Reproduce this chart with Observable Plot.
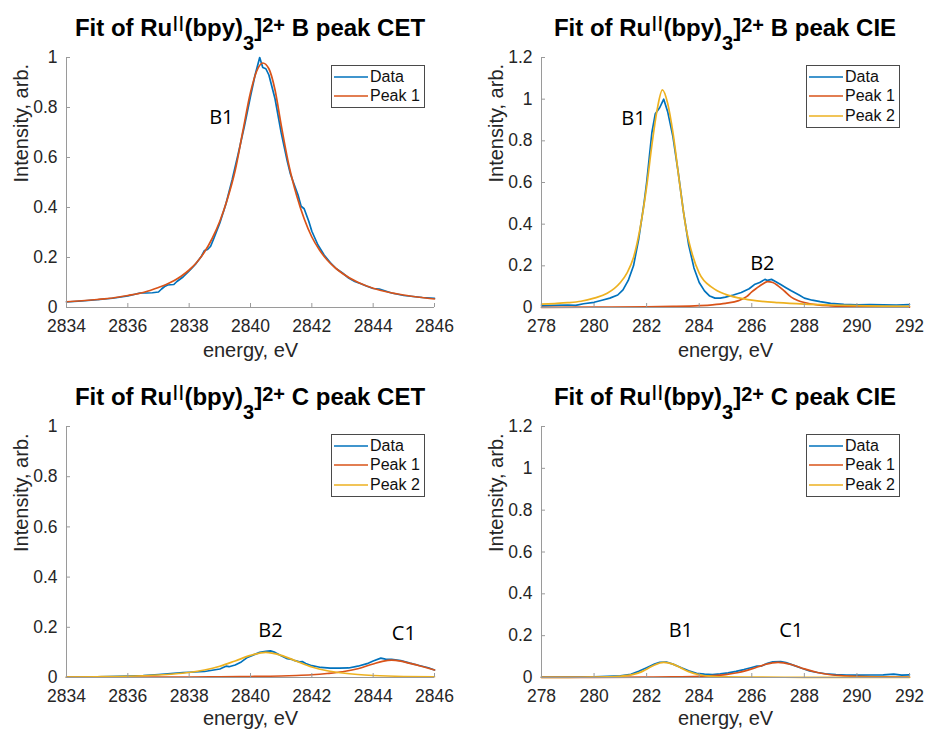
<!DOCTYPE html>
<html>
<head>
<meta charset="utf-8">
<script src="https://cdn.jsdelivr.net/npm/d3@7"></script>
<script src="https://cdn.jsdelivr.net/npm/@observablehq/plot@0.6"></script>
<style>
  body { margin: 0; background: #fff; }
  #fig { position: relative; width: 926px; height: 729px; overflow: hidden;
         font-family: "Liberation Sans", Arial, Helvetica, sans-serif; }
  .panel { position: absolute; }
  .panel svg { display: block; }
  .title { position: absolute; transform: translateX(-50%); white-space: nowrap;
           font-weight: bold; font-size: 24px; line-height: 24px; color: #000; }
  .title sup, .title sub { font-size: 20px; line-height: 0; }
  .title sup.ox { vertical-align: 5px; font-weight: normal; font-size: 22px; }
  .title sup.ch { vertical-align: 4px; }
  .title sub { vertical-align: -14px; }
  .legend { position: absolute; background: #fff; border: 1px solid #4a4a4a;
            font-size: 16px; color: #111; padding: 1px 4px 1px 2px; box-sizing: border-box; }
  .legend .row { display: flex; align-items: center; height: 19.5px; }
  .legend svg { margin-right: 2px; }
</style>
</head>
<body>
<div id="fig"></div>
<script>
// ---- axis ticks ----
const cetTicks = [2834, 2836, 2838, 2840, 2842, 2844, 2846];
const cieTicks = [278, 280, 282, 284, 286, 288, 290, 292];
const yTicksCet = [0, 0.2, 0.4, 0.6, 0.8, 1];
const yTicksCie = [0, 0.2, 0.4, 0.6, 0.8, 1, 1.2];

// ---- B peak, CET ----
const bCetDataE = [2834, 2834.5, 2835, 2835.5, 2836, 2836.2, 2836.4, 2836.6, 2836.8, 2837, 2837.1, 2837.2, 2837.3, 2837.5, 2837.6, 2837.8, 2838, 2838.2, 2838.4, 2838.5, 2838.6, 2838.7, 2838.8, 2839, 2839.2, 2839.4, 2839.6, 2839.8, 2840, 2840.15, 2840.3, 2840.4, 2840.5, 2840.6, 2840.8, 2841, 2841.2, 2841.3, 2841.4, 2841.55, 2841.65, 2841.75, 2841.9, 2842, 2842.2, 2842.4, 2842.6, 2842.8, 2843, 2843.2, 2843.4, 2843.6, 2843.8, 2844, 2844.2, 2844.4, 2844.6, 2844.8, 2845, 2845.3, 2845.6, 2846];
const bCetData = [0.022, 0.026, 0.031, 0.037, 0.046, 0.052, 0.058, 0.058, 0.059, 0.062, 0.074, 0.084, 0.090, 0.092, 0.104, 0.122, 0.146, 0.172, 0.205, 0.228, 0.232, 0.245, 0.275, 0.338, 0.415, 0.51, 0.615, 0.725, 0.845, 0.93, 1.0, 0.96, 0.955, 0.93, 0.835, 0.70, 0.585, 0.535, 0.50, 0.45, 0.405, 0.395, 0.345, 0.305, 0.25, 0.21, 0.18, 0.155, 0.138, 0.118, 0.104, 0.095, 0.085, 0.076, 0.074, 0.066, 0.058, 0.053, 0.048, 0.044, 0.040, 0.037];
const bCetPeak1E = [2834, 2834.5, 2835, 2835.5, 2836, 2836.5, 2837, 2837.25, 2837.5, 2837.75, 2838, 2838.25, 2838.5, 2838.75, 2839, 2839.25, 2839.5, 2839.75, 2840, 2840.2, 2840.4, 2840.6, 2840.8, 2841, 2841.25, 2841.5, 2841.75, 2842, 2842.25, 2842.5, 2842.75, 2843, 2843.5, 2844, 2844.5, 2845, 2845.5, 2846];
const bCetPeak1 = [0.023, 0.027, 0.032, 0.038, 0.048, 0.060, 0.080, 0.092, 0.107, 0.126, 0.150, 0.181, 0.222, 0.276, 0.345, 0.435, 0.548, 0.705, 0.86, 0.945, 0.978, 0.955, 0.87, 0.73, 0.57, 0.45, 0.355, 0.282, 0.230, 0.190, 0.160, 0.136, 0.101, 0.077, 0.061, 0.050, 0.041, 0.034];

// ---- B peak, CIE ----
const bCieDataE = [278, 278.5, 279, 279.3, 279.6, 280, 280.3, 280.6, 280.9, 281.1, 281.3, 281.5, 281.7, 281.9, 282, 282.1, 282.2, 282.33, 282.5, 282.65, 282.8, 283, 283.2, 283.4, 283.6, 283.8, 284, 284.2, 284.4, 284.6, 284.8, 285, 285.3, 285.6, 285.9, 286.1, 286.3, 286.5, 286.6, 286.75, 286.9, 287.1, 287.3, 287.5, 287.8, 288, 288.3, 288.6, 289, 289.5, 290, 290.5, 291, 291.5, 292];
const bCieData = [0.008, 0.010, 0.012, 0.010, 0.018, 0.025, 0.035, 0.045, 0.060, 0.085, 0.13, 0.20, 0.33, 0.50, 0.60, 0.72, 0.84, 0.93, 0.96, 1.0, 0.94, 0.82, 0.65, 0.46, 0.30, 0.19, 0.12, 0.08, 0.055, 0.045, 0.045, 0.05, 0.06, 0.072, 0.09, 0.11, 0.12, 0.135, 0.13, 0.135, 0.125, 0.11, 0.095, 0.08, 0.06, 0.045, 0.035, 0.028, 0.02, 0.015, 0.013, 0.014, 0.013, 0.012, 0.014];
const bCiePeak1E = [278, 280, 282, 283, 284, 284.5, 285, 285.5, 285.8, 286, 286.2, 286.4, 286.6, 286.8, 287, 287.25, 287.5, 287.75, 288, 288.5, 289, 290, 291, 292];
const bCiePeak1 = [0.001, 0.002, 0.003, 0.005, 0.009, 0.013, 0.02, 0.033, 0.052, 0.075, 0.094, 0.112, 0.124, 0.12, 0.104, 0.078, 0.05, 0.034, 0.024, 0.013, 0.008, 0.004, 0.003, 0.002];
const bCiePeak2E = [278, 278.5, 279, 279.5, 280, 280.5, 281, 281.25, 281.5, 281.75, 282, 282.2, 282.4, 282.6, 282.8, 283, 283.25, 283.5, 283.75, 284, 284.5, 285, 285.5, 286, 287, 288, 289, 290, 291, 292];
const bCiePeak2 = [0.016, 0.019, 0.023, 0.03, 0.045, 0.068, 0.12, 0.165, 0.24, 0.38, 0.58, 0.78, 0.95, 1.045, 0.98, 0.84, 0.6, 0.38, 0.25, 0.165, 0.095, 0.063, 0.046, 0.035, 0.023, 0.016, 0.012, 0.009, 0.007, 0.006];

// ---- C peak, CET ----
const cCetDataE = [2834, 2835, 2836, 2836.5, 2837, 2837.5, 2837.8, 2838, 2838.5, 2838.8, 2839, 2839.2, 2839.3, 2839.5, 2839.7, 2839.9, 2840.1, 2840.3, 2840.5, 2840.65, 2840.8, 2841, 2841.2, 2841.35, 2841.45, 2841.6, 2841.7, 2841.8, 2842, 2842.3, 2842.6, 2842.9, 2843.2, 2843.5, 2843.8, 2844, 2844.25, 2844.4, 2844.6, 2844.9, 2845.2, 2845.5, 2845.8, 2846];
const cCetData = [0.002, 0.003, 0.006, 0.008, 0.012, 0.017, 0.02, 0.021, 0.024, 0.03, 0.034, 0.045, 0.043, 0.05, 0.062, 0.08, 0.09, 0.1, 0.104, 0.106, 0.1, 0.087, 0.075, 0.072, 0.067, 0.062, 0.063, 0.056, 0.047, 0.04, 0.037, 0.037, 0.038, 0.045, 0.055, 0.066, 0.077, 0.073, 0.072, 0.067, 0.057, 0.048, 0.039, 0.03];
const cCetPeak1E = [2834, 2836, 2838, 2839, 2840, 2841, 2841.5, 2842, 2842.5, 2843, 2843.5, 2844, 2844.3, 2844.6, 2844.9, 2845.2, 2845.5, 2845.8, 2846];
const cCetPeak1 = [0.001, 0.001, 0.002, 0.003, 0.004, 0.006, 0.008, 0.011, 0.016, 0.023, 0.035, 0.054, 0.064, 0.069, 0.065, 0.056, 0.047, 0.037, 0.03];
const cCetPeak2E = [2834, 2835, 2836, 2836.5, 2837, 2837.5, 2838, 2838.5, 2839, 2839.5, 2840, 2840.5, 2841, 2841.5, 2842, 2842.5, 2843, 2843.5, 2844, 2845, 2846];
const cCetPeak2 = [0.002, 0.003, 0.005, 0.007, 0.01, 0.014, 0.02, 0.03, 0.045, 0.066, 0.088, 0.1, 0.088, 0.065, 0.042, 0.027, 0.018, 0.012, 0.008, 0.004, 0.003];

// ---- C peak, CIE ----
const cCieDataE = [278, 279, 280, 281, 281.4, 281.7, 282, 282.3, 282.5, 282.75, 283, 283.3, 283.6, 283.9, 284.2, 284.5, 284.8, 285.1, 285.4, 285.7, 286, 286.2, 286.35, 286.6, 286.8, 287.1, 287.3, 287.6, 287.9, 288.2, 288.5, 288.8, 289.2, 289.6, 290, 290.5, 291, 291.4, 291.7, 292];
const cCieData = [0.002, 0.002, 0.003, 0.008, 0.015, 0.03, 0.047, 0.064, 0.073, 0.074, 0.064, 0.048, 0.032, 0.02, 0.016, 0.014, 0.017, 0.022, 0.029, 0.038, 0.048, 0.055, 0.054, 0.068, 0.075, 0.076, 0.071, 0.058, 0.044, 0.031, 0.024, 0.018, 0.014, 0.012, 0.011, 0.012, 0.013, 0.016, 0.011, 0.013];
const cCiePeak1E = [278, 280, 282, 283, 284, 284.5, 285, 285.5, 286, 286.5, 287, 287.5, 288, 288.5, 289, 289.5, 290, 291, 292];
const cCiePeak1 = [0.001, 0.001, 0.002, 0.003, 0.006, 0.009, 0.014, 0.024, 0.041, 0.062, 0.072, 0.062, 0.041, 0.024, 0.013, 0.008, 0.005, 0.003, 0.002];
const cCiePeak2E = [278, 279, 280, 280.5, 281, 281.5, 281.8, 282, 282.3, 282.65, 283, 283.3, 283.6, 284, 284.5, 285, 286, 288, 292];
const cCiePeak2 = [0.001, 0.001, 0.002, 0.003, 0.006, 0.015, 0.027, 0.04, 0.06, 0.072, 0.064, 0.046, 0.028, 0.013, 0.006, 0.003, 0.002, 0.001, 0.001];

// ---- peak annotations ----
const bCetLabels = ["B1"], bCetLabelE = [2839.05], bCetLabelY = [0.758];
const bCieLabels = ["B1", "B2"], bCieLabelE = [281.5, 286.4], bCieLabelY = [0.906, 0.211];
const cCetLabels = ["B2", "C1"], cCetLabelE = [2840.65, 2845.0], cCetLabelY = [0.186, 0.173];
const cCieLabels = ["B1", "C1"], cCieLabelE = [283.3, 287.5], cCieLabelY = [0.222, 0.222];

// ---- titles ----
const peakNames = ["B", "B", "C", "C"];
const scanNames = ["CET", "CIE", "CET", "CIE"];

const FONT = '"Liberation Sans", Arial, Helvetica, sans-serif';
const BLUE = "#0072BD", ORANGE = "#D95319", YELLOW = "#EDB120", AXIS = "#9a9a9a", INK = "#262626";

const zip = (xs, ys) => xs.map((x, i) => ({x, y: ys[i]}));
const zipText = (ts, xs, ys) => ts.map((t, i) => ({t, x: xs[i], y: ys[i]}));

const panels = [
  {left: 0, top: 0, width: 463, height: 369, m: [57, 29, 62, 66], xLabelDy: 43,
   xDomain: [2834, 2846], xTicks: cetTicks, yDomain: [0, 1], yTicks: yTicksCet,
   series: [{name: "Data", color: BLUE, curve: "linear", rows: zip(bCetDataE, bCetData)},
            {name: "Peak 1", color: ORANGE, curve: "monotone-x", rows: zip(bCetPeak1E, bCetPeak1)}],
   labels: zipText(bCetLabels, bCetLabelE, bCetLabelY)},
  {left: 463, top: 0, width: 463, height: 369, m: [57, 17, 62, 78], xLabelDy: 43,
   xDomain: [278, 292], xTicks: cieTicks, yDomain: [0, 1.2], yTicks: yTicksCie,
   series: [{name: "Data", color: BLUE, curve: "linear", rows: zip(bCieDataE, bCieData)},
            {name: "Peak 1", color: ORANGE, curve: "monotone-x", rows: zip(bCiePeak1E, bCiePeak1)},
            {name: "Peak 2", color: YELLOW, curve: "monotone-x", rows: zip(bCiePeak2E, bCiePeak2)}],
   labels: zipText(bCieLabels, bCieLabelE, bCieLabelY)},
  {left: 0, top: 369, width: 463, height: 360, m: [57, 29, 52, 66], xLabelDy: 41,
   xDomain: [2834, 2846], xTicks: cetTicks, yDomain: [0, 1], yTicks: yTicksCet,
   series: [{name: "Data", color: BLUE, curve: "linear", rows: zip(cCetDataE, cCetData)},
            {name: "Peak 1", color: ORANGE, curve: "monotone-x", rows: zip(cCetPeak1E, cCetPeak1)},
            {name: "Peak 2", color: YELLOW, curve: "monotone-x", rows: zip(cCetPeak2E, cCetPeak2)}],
   labels: zipText(cCetLabels, cCetLabelE, cCetLabelY)},
  {left: 463, top: 369, width: 463, height: 360, m: [57, 17, 52, 78], xLabelDy: 41,
   xDomain: [278, 292], xTicks: cieTicks, yDomain: [0, 1.2], yTicks: yTicksCie,
   series: [{name: "Data", color: BLUE, curve: "linear", rows: zip(cCieDataE, cCieData)},
            {name: "Peak 1", color: ORANGE, curve: "monotone-x", rows: zip(cCiePeak1E, cCiePeak1)},
            {name: "Peak 2", color: YELLOW, curve: "monotone-x", rows: zip(cCiePeak2E, cCiePeak2)}],
   labels: zipText(cCieLabels, cCieLabelE, cCieLabelY)}
];

const fig = document.getElementById("fig");

panels.forEach((p, k) => {
  const [mt, mr, mb, ml] = p.m;
  const w = p.width - ml - mr, h = p.height - mt - mb;

  const chart = Plot.plot({
    width: p.width, height: p.height,
    marginTop: mt, marginRight: mr, marginBottom: mb, marginLeft: ml,
    style: {fontFamily: FONT, fontSize: "17.5px", color: INK, background: "transparent", overflow: "visible"},
    x: {domain: p.xDomain},
    y: {domain: p.yDomain},
    marks: [
      ...p.series.map(s => Plot.line(s.rows, {x: "x", y: "y", stroke: s.color, strokeWidth: 1.7, curve: s.curve})),
      Plot.ruleX([p.xDomain[0]], {stroke: AXIS}),
      Plot.ruleY([p.yDomain[0]], {stroke: AXIS}),
      Plot.tickX(p.xTicks, {x: d => d, stroke: AXIS, insetTop: h - 4}),
      Plot.tickY(p.yTicks, {y: d => d, stroke: AXIS, insetRight: w - 4}),
      Plot.axisX({ticks: p.xTicks, tickSize: 0, tickPadding: 12, tickFormat: d => String(d), label: null}),
      Plot.axisY({ticks: p.yTicks, tickSize: 0, tickPadding: 9, tickFormat: d => String(d), label: null}),
      Plot.text(["energy, eV"], {frameAnchor: "bottom", dy: p.xLabelDy, text: d => d, fontSize: 20, fill: INK, lineAnchor: "middle"}),
      Plot.text(["Intensity, arb."], {frameAnchor: "left", dx: -45, rotate: -90, text: d => d, fontSize: 20, fill: INK, lineAnchor: "middle"}),
      Plot.text(p.labels, {x: "x", y: "y", text: "t", fontFamily: "'Open Sans', sans-serif", fontSize: 20, fill: "#000", lineAnchor: "middle"})
    ]
  });

  const div = document.createElement("div");
  div.className = "panel";
  div.style.left = p.left + "px";
  div.style.top = p.top + "px";
  div.appendChild(chart);
  fig.appendChild(div);

  // title, centred over the plotting area with its baseline 21px above it
  const title = document.createElement("div");
  title.className = "title";
  title.style.left = (p.left + ml + w / 2) + "px";
  title.style.top = (p.top + mt - 21 - 20.2) + "px";
  title.innerHTML = `Fit of Ru<sup class="ox">II</sup>(bpy)<sub>3</sub>]<sup class="ch">2+</sup> ${peakNames[k]} peak ${scanNames[k]}`;
  fig.appendChild(title);

  // legend box in the upper right corner of the axes
  const legend = document.createElement("div");
  legend.className = "legend";
  legend.style.left = (p.left + ml + w - 103) + "px";
  legend.style.top = (p.top + mt + 8) + "px";
  legend.style.width = "94px";
  p.series.forEach(s => {
    const row = document.createElement("div");
    row.className = "row";
    row.innerHTML = `<svg width="34" height="4"><line x1="0" x2="34" y1="2" y2="2" stroke="${s.color}" stroke-width="1.7"/></svg><span>${s.name}</span>`;
    legend.appendChild(row);
  });
  fig.appendChild(legend);
});
</script>
</body>
</html>
